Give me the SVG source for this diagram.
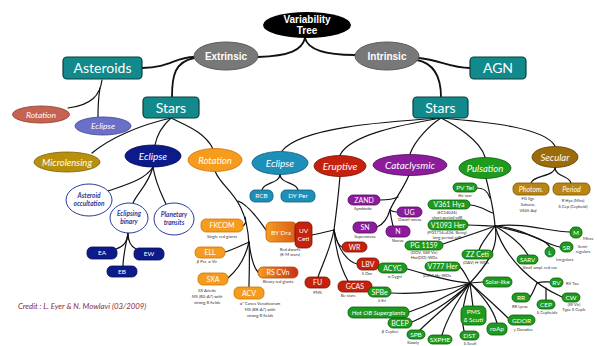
<svg xmlns="http://www.w3.org/2000/svg" width="597" height="346" viewBox="0 0 597 346">
<defs>
<linearGradient id="gBy" x1="0" y1="0" x2="1" y2="0"><stop offset="0" stop-color="#f59c1e"/><stop offset="1" stop-color="#dc5a1a"/></linearGradient>
<linearGradient id="gRs" x1="0" y1="0" x2="1" y2="0"><stop offset="0" stop-color="#f59c1e"/><stop offset="1" stop-color="#c83018"/></linearGradient>
<style>
.c{fill:none;stroke:#111;stroke-width:1.2;stroke-linecap:round}
.cw{fill:none;stroke:#111;stroke-width:1.8;stroke-linecap:round}
.teal{fill:#128a8c;stroke:#0a3e3e;stroke-width:1.2}
.gray{fill:#787878;stroke:#5a5a5a;stroke-width:1}
.or{fill:#f59c1e;stroke:#d07400;stroke-width:.8}
.rd{fill:#c4220e;stroke:#7a1000;stroke-width:.8}
.gr{fill:#1e9a1e;stroke:#0a5a0a;stroke-width:.8}
.pu{fill:#8c1c9c;stroke:#50085a;stroke-width:.8}
.cy{fill:#1d8fb8;stroke:#0c5a7a;stroke-width:.8}
.db{fill:#0c1a8a;stroke:#060c50;stroke-width:.8}
.se{fill:#9c6c0a;stroke:#5a3c00;stroke-width:.8}
.se2{fill:#b88414;stroke:#7a5400;stroke-width:.8}
.wh{fill:#fff;stroke:#2a3a9a;stroke-width:1}
.t{font-family:Lato,"Open Sans",sans-serif;fill:#fff;text-anchor:middle}
.ti{font-family:Lato,"Open Sans",sans-serif;font-style:italic;fill:#fff;text-anchor:middle}
.tb{font-family:"Liberation Sans",Arial,sans-serif;font-weight:bold;fill:#fff;text-anchor:middle;font-size:10px}
.tw{font-family:Lato,"Open Sans",sans-serif;font-style:italic;font-weight:bold;fill:#2a3a9a;text-anchor:middle;font-size:6.5px}
.s{font-family:Lato,"Open Sans",sans-serif;fill:#333;text-anchor:middle;font-size:4.2px}
.sl{font-family:Lato,"Open Sans",sans-serif;fill:#333;text-anchor:start;font-size:4.2px}
.big{font-size:14px}
.m{font-size:10px}
.b{font-size:7px}
</style>
</defs>
<rect width="597" height="346" fill="#fff"/>
<g id="connectors">
<path class="cw" d="M305,38 C302,50 290,56 258,57"/>
<path class="cw" d="M305,38 C308,50 325,55 355,55"/>
<path class="cw" d="M142,68 C170,68 175,57 194,57"/>
<path class="cw" d="M194,58 C175,62 172,75 172,97"/>
<path class="cw" d="M419,58 C440,60 450,68 470,68"/>
<path class="cw" d="M417,60 C432,63 441,75 441,97"/>
<path class="c" d="M102,80 C100,95 92,105 68,108"/>
<path class="c" d="M100,88 C98,100 98,108 98,117"/>
<path class="c" d="M171,118 C140,125 110,138 92,153"/>
<path class="c" d="M171,118 C163,125 157,135 155,145"/>
<path class="c" d="M171,118 C185,125 205,132 213,149"/>
<path class="c" d="M153,167 C145,180 125,185 108,191"/>
<path class="c" d="M153,167 C148,185 138,192 133,203"/>
<path class="c" d="M153,167 C156,185 162,195 166,204"/>
<path class="c" d="M128,233 C128,243 122,247 116,249"/>
<path class="c" d="M128,233 C128,243 132,247 136,249"/>
<path class="c" d="M128,233 C125,248 123,258 123,266"/>
<path class="c" d="M215,171 C222,190 247,195 249,245"/>
<path class="c" d="M243,226 C246,224 246,220 245,217"/>
<path class="c" d="M238,201 C250,205 262,225 267,231"/>
<path class="c" d="M249,242 C240,246 232,250 225,252"/>
<path class="c" d="M249,242 C245,260 235,272 228,278"/>
<path class="c" d="M249,242 C250,260 249,275 249,287"/>
<path class="c" d="M249,242 C251,258 254,268 258,272"/>
<path class="c" d="M441,118 C380,122 300,128 282,151"/>
<path class="c" d="M441,118 C400,125 350,135 340,155"/>
<path class="c" d="M441,118 C430,125 415,140 410,154"/>
<path class="c" d="M441,118 C455,125 480,140 485,157"/>
<path class="c" d="M441,118 C490,122 545,128 555,146"/>
<path class="c" d="M280,174 C280,184 263,182 262,190"/>
<path class="c" d="M280,174 C280,184 297,182 298,190"/>
<path class="c" d="M340,176 C338,200 336,215 334,230"/>
<path class="c" d="M334,230 C325,232 318,234 312,235"/>
<path class="c" d="M334,230 C336,240 339,246 342,247"/>
<path class="c" d="M334,230 C338,250 348,262 357,264"/>
<path class="c" d="M334,230 C336,255 343,272 348,281"/>
<path class="c" d="M334,230 C330,250 322,265 318,277"/>
<path class="c" d="M409,175 C403,190 395,198 390,210"/>
<path class="c" d="M398,197 C392,200 386,200 380,200"/>
<path class="c" d="M390,210 C393,212 395,212 397,212"/>
<path class="c" d="M390,210 C387,220 382,225 377,227"/>
<path class="c" d="M390,210 C391,218 392,222 393,226"/>
<path class="c" d="M555,167 C555,177 533,175 531,183"/>
<path class="c" d="M555,167 C555,177 569,175 571,183"/>
<path class="c" d="M486,178 C490,195 494,210 495,226"/>
<path class="c" d="M477,188 C485,188 488,192 490,198"/>
<path class="c" d="M470,205 C482,206 488,212 493,213"/>
<path class="c" d="M468,225 C478,225 488,226 495,226"/>
<path class="c" d="M495,226 C480,232 460,238 443,244"/>
<path class="c" d="M495,226 C488,235 482,242 479,250"/>
<path class="c" d="M495,226 C500,250 482,270 470,283"/>
<path class="c" d="M495,226 C525,222 550,232 570,232"/>
<path class="c" d="M495,226 C525,228 545,245 560,247"/>
<path class="c" d="M495,226 C520,232 545,238 550,247"/>
<path class="c" d="M495,226 C510,235 522,245 528,255"/>
<path class="c" d="M495,226 C505,260 535,285 562,297"/>
<path class="c" d="M537,283 C543,281 547,282 550,282"/>
<path class="c" d="M537,283 C534,290 532,295 530,297"/>
<path class="c" d="M546,288 L546,300"/>
<path class="c" d="M460,267 C465,272 467,278 470,283"/>
<path class="c" d="M407,269 C430,275 450,282 470,283"/>
<path class="c" d="M391,293 C420,295 450,290 470,283"/>
<path class="c" d="M409,312 C430,305 455,292 470,283"/>
<path class="c" d="M412,322 C435,312 458,295 470,283"/>
<path class="c" d="M420,330 C435,315 458,297 470,283"/>
<path class="c" d="M442,335 C448,315 460,297 470,283"/>
<path class="c" d="M464,331 C460,315 465,295 470,283"/>
<path class="c" d="M473,307 L470,283"/>
<path class="c" d="M497,323 C492,305 478,292 470,283"/>
<path class="c" d="M508,318 C495,305 480,292 470,283"/>
<path class="c" d="M483,282 L470,283"/>
</g>
<g id="root"><ellipse cx="307" cy="25" rx="44" ry="13" fill="#000"/><text class="tb" x="307" y="23">Variability</text><text class="tb" x="307" y="34">Tree</text></g>
<g id="extrinsic"><ellipse class="gray" cx="226" cy="56" rx="32" ry="14"/><text class="tb" x="226" y="59.5">Extrinsic</text></g>
<g id="intrinsic"><ellipse class="gray" cx="387" cy="56" rx="32" ry="14"/><text class="tb" x="387" y="59.5">Intrinsic</text></g>
<g id="asteroids"><rect class="teal" x="63" y="57" width="79" height="22" rx="4"/><text class="t big" x="102.5" y="73">Asteroids</text></g>
<g id="stars-ext"><rect class="teal" x="143" y="97" width="56" height="21" rx="4"/><text class="t big" x="171" y="112.5">Stars</text></g>
<g id="agn"><rect class="teal" x="470" y="57" width="56" height="22" rx="4"/><text class="t big" x="498" y="73">AGN</text></g>
<g id="stars-int"><rect class="teal" x="413" y="97" width="55" height="21" rx="4"/><text class="t big" x="440.5" y="112.5">Stars</text></g>
<g id="ast-rotation"><ellipse cx="41" cy="114.5" rx="28.5" ry="8.5" fill="#c56250" stroke="#8a3a2a" stroke-width=".8"/><text class="ti" font-size="8.5" x="41" y="117.5">Rotation</text></g>
<g id="ast-eclipse"><ellipse cx="103" cy="126" rx="28" ry="9" fill="#6a6fc8" stroke="#3a3f8a" stroke-width=".8"/><text class="ti" font-size="8.5" x="103" y="129">Eclipse</text></g>
<g id="microlensing"><ellipse cx="67" cy="162" rx="33" ry="10" fill="#b8900c" stroke="#7a5a00" stroke-width=".8"/><text class="ti" font-size="9.5" x="67" y="165.5">Microlensing</text></g>
<g id="eclipse-ext"><ellipse class="db" cx="153" cy="156" rx="28" ry="11"/><text class="ti m" x="153" y="159.5">Eclipse</text></g>
<g id="rotation"><ellipse class="or" cx="215" cy="160" rx="27" ry="11.5"/><text class="ti" font-size="9.5" x="215" y="163.5">Rotation</text></g>
<g id="eclipse-int"><ellipse class="cy" cx="280" cy="163" rx="28" ry="11.5"/><text class="ti m" x="280" y="166.5">Eclipse</text></g>
<g id="eruptive"><ellipse class="rd" cx="340" cy="166" rx="26" ry="10.5"/><text class="ti m" x="340" y="169.5">Eruptive</text></g>
<g id="cataclysmic"><ellipse class="pu" cx="410" cy="165" rx="37" ry="10.5"/><text class="ti m" x="410" y="168.5">Cataclysmic</text></g>
<g id="pulsation"><ellipse class="gr" cx="485" cy="168" rx="26" ry="10.5"/><text class="ti" font-size="9.5" x="485" y="171.5">Pulsation</text></g>
<g id="secular"><ellipse class="se" cx="555" cy="157" rx="23" ry="10.5"/><text class="ti" font-size="9.5" x="555" y="160.5">Secular</text></g>
<g id="occultation"><ellipse class="wh" cx="89" cy="200" rx="23" ry="16"/><text class="tw" x="89" y="198">Asteroid</text><text class="tw" x="89" y="206">occultation</text></g>
<g id="eclipsing-binary"><ellipse class="wh" cx="129" cy="218" rx="19" ry="15"/><text class="tw" x="129" y="216">Eclipsing</text><text class="tw" x="129" y="224">binary</text></g>
<g id="planetary-transits"><ellipse class="wh" cx="174" cy="219" rx="20" ry="16"/><text class="tw" x="174" y="217">Planetary</text><text class="tw" x="174" y="225">transits</text></g>
<g id="ea"><rect class="db" x="87" y="247" width="30" height="12" rx="5"/><text class="t" font-size="6.5" x="102" y="255.3">EA</text></g>
<g id="ew"><rect class="db" x="134" y="248" width="30" height="12" rx="5"/><text class="t" font-size="6.5" x="149" y="256.3">EW</text></g>
<g id="eb"><rect class="db" x="107" y="266" width="30" height="11" rx="5"/><text class="t" font-size="6.5" x="122" y="273.8">EB</text></g>
<g id="fkcom"><rect class="or" x="201" y="219" width="42" height="13" rx="5"/><text class="t b" x="222" y="228">FKCOM</text><text class="s" x="222" y="238">Single red giants</text></g>
<g id="ell"><rect class="or" x="195" y="247" width="30" height="11" rx="5"/><text class="t b" x="210" y="255">ELL</text><text class="s" x="207" y="263">β Per, α Vir</text></g>
<g id="sxa"><rect class="or" x="198" y="273" width="30" height="12" rx="5"/><text class="t b" x="213" y="281.5">SXA</text><text class="s" x="207" y="292">SX Arietis</text><text class="s" x="207" y="298">MS (B0-A7) with</text><text class="s" x="207" y="304">strong B fields</text></g>
<g id="acv"><rect class="or" x="234" y="287" width="30" height="12" rx="5"/><text class="t b" x="249" y="295.5">ACV</text><text class="s" x="260" y="305">α² Canes Venaticorum</text><text class="s" x="260" y="311">MS (B8-A7) with</text><text class="s" x="260" y="317">strong B fields</text></g>
<g id="rscvn"><rect x="258" y="267" width="40" height="11" rx="5" fill="url(#gRs)" stroke="#b04a10" stroke-width=".8"/><text class="t b" x="278" y="275">RS CVn</text><text class="s" x="278" y="282.5">Binary red giants</text></g>
<g id="bydra"><rect x="266" y="222" width="31" height="20" rx="5" fill="url(#gBy)" stroke="#c06010" stroke-width=".8"/><text class="t" font-size="6.5" x="281" y="234.5">BY Dra</text></g>
<g id="uvceti"><rect class="rd" x="295" y="222" width="17" height="26" rx="5"/><text class="t" font-size="6.5" x="303.5" y="232.5">UV</text><text class="t" font-size="6.5" x="303.5" y="241">Ceti</text><text class="s" x="290" y="250.5">Red dwarfs</text><text class="s" x="290" y="256">(K-M stars)</text></g>
<g id="rcb"><rect class="cy" x="250" y="190" width="23" height="12" rx="5"/><text class="t" font-size="6.5" x="261.5" y="198.3">RCB</text></g>
<g id="dyper"><rect class="cy" x="281" y="190" width="34" height="12" rx="5"/><text class="t" font-size="6.5" x="298" y="198.3">DY Per</text></g>
<g id="fu"><rect class="rd" x="305" y="277" width="25" height="11" rx="5"/><text class="t b" x="317.5" y="285">FU</text><text class="s" x="317.5" y="293.5">PMS</text></g>
<g id="gcas"><rect class="rd" x="338" y="281" width="34" height="11" rx="5"/><text class="t b" x="355" y="289">GCAS</text><text class="s" x="348" y="297">Be stars</text></g>
<g id="wr"><rect class="rd" x="342" y="242" width="25" height="10" rx="5"/><text class="t b" x="354.5" y="249.5">WR</text></g>
<g id="lbv"><rect class="rd" x="357" y="258" width="22" height="12" rx="5"/><text class="t b" x="368" y="266.5">LBV</text><text class="s" x="367" y="274.5">S Dor</text></g>
<g id="zand"><rect class="pu" x="348" y="195" width="32" height="10" rx="5"/><text class="t b" x="364" y="202.5">ZAND</text><text class="s" x="363" y="209.5">Symbiotic</text></g>
<g id="ug"><rect class="pu" x="397" y="207" width="25" height="10" rx="5"/><text class="t b" x="409.5" y="214.5">UG</text><text class="s" x="410" y="221">Dwarf novae</text></g>
<g id="sn"><rect class="pu" x="353" y="222" width="24" height="11" rx="5"/><text class="t b" x="365" y="230">SN</text><text class="s" x="365" y="237.5">Supernovae</text></g>
<g id="n"><rect class="pu" x="386" y="226" width="24" height="11" rx="5"/><text class="t b" x="398" y="234">N</text><text class="s" x="398" y="241.5">Novae</text></g>
<g id="photom"><rect class="se2" x="513" y="183" width="36" height="12" rx="5"/><text class="ti b" x="531" y="191.5">Photom.</text><text class="s" x="528" y="200">FG Sge</text><text class="s" x="528" y="206">Sakurai,</text><text class="s" x="528" y="212">V605 Aql</text></g>
<g id="period"><rect class="se2" x="553" y="183" width="37" height="12" rx="5"/><text class="ti b" x="571.5" y="191.5">Period</text><text class="s" x="573" y="202">R Hya (Mira)</text><text class="s" x="573" y="208">δ Cep (Cepheid)</text></g>
<g id="pvtel"><rect class="gr" x="453" y="183" width="24" height="9" rx="4.5"/><text class="t" font-size="6.5" x="465" y="190.2">PV Tel</text><text class="s" x="465" y="197">He star</text></g>
<g id="v361"><rect class="gr" x="428" y="200" width="42" height="9" rx="4.5"/><text class="t b" x="449" y="207.3">V361 Hya</text><text class="s" x="447" y="213.5">(EC14026)</text><text class="s" x="447" y="219">short period sdB</text></g>
<g id="v1093"><rect class="gr" x="428" y="220" width="40" height="10" rx="5"/><text class="t b" x="448" y="227.7">V1093 Her</text><text class="s" x="447" y="233.5">(PG1716+426, Betsy)</text><text class="s" x="447" y="238.5">long period sdB</text></g>
<g id="pg1159"><rect class="gr" x="405" y="241" width="38" height="9" rx="4.5"/><text class="t b" x="424" y="248.2">PG 1159</text><text class="s" x="424" y="254">(DOV, GW Vir)</text><text class="s" x="424" y="259">Hot(DO)-WDs</text></g>
<g id="zzceti"><rect class="gr" x="462" y="250" width="31" height="9" rx="4.5"/><text class="t b" x="477.5" y="257.2">ZZ Ceti</text><text class="s" x="476" y="263.5">(DAV) H-WDs</text></g>
<g id="v777"><rect class="gr" x="425" y="262" width="35" height="9" rx="4.5"/><text class="t b" x="442.5" y="269.2">V777 Her</text><text class="s" x="437" y="277">(DBV) He-WDs</text></g>
<g id="acyg"><rect class="gr" x="378" y="263" width="29" height="10" rx="5"/><text class="t b" x="392.5" y="270.5">ACYG</text><text class="s" x="395" y="278">α Cygni</text></g>
<g id="spbe"><rect class="gr" x="368" y="287" width="23" height="10" rx="5"/><text class="t b" x="379.5" y="294.5">SPBe</text><text class="s" x="382" y="302">λ Eri</text></g>
<g id="hotob"><rect class="gr" x="348" y="307" width="61" height="11" rx="5"/><text class="ti" font-size="6.5" x="378.5" y="314.8">Hot OB Supergiants</text></g>
<g id="bcep"><rect class="gr" x="388" y="318" width="24" height="10" rx="5"/><text class="t b" x="400" y="325.5">BCEP</text><text class="s" x="390" y="333">β Cephei</text></g>
<g id="spb"><rect class="gr" x="407" y="330" width="18" height="9" rx="4.5"/><text class="t" font-size="6.5" x="416" y="337">SPB</text><text class="s" x="413" y="343.5">Slowly</text></g>
<g id="sxphe"><rect class="gr" x="428" y="335" width="24" height="9" rx="4.5"/><text class="t" font-size="6.5" x="440" y="342">SXPHE</text></g>
<g id="dst"><rect class="gr" x="460" y="331" width="19" height="9" rx="4.5"/><text class="t" font-size="6.5" x="469.5" y="338">DST</text><text class="s" x="470" y="344.5">δ Scuti</text></g>
<g id="pms"><rect class="gr" x="461" y="306" width="25" height="19" rx="5"/><text class="t" font-size="6.5" x="473.5" y="314">PMS</text><text class="t" font-size="6.5" x="473.5" y="322">δ Scuti</text></g>
<g id="roap"><rect class="gr" x="487" y="323" width="20" height="12" rx="5"/><text class="t" font-size="6.5" x="497" y="331.3">roAp</text></g>
<g id="gdor"><rect class="gr" x="508" y="315" width="27" height="10" rx="5"/><text class="t" font-size="6.5" x="521.5" y="322.5">GDOR</text><text class="s" x="523" y="330.5">γ Doradus</text></g>
<g id="solar"><rect class="gr" x="483" y="277" width="29" height="10" rx="5"/><text class="t" font-size="6" x="497.5" y="284.3">Solar-like</text></g>
<g id="rr"><rect class="gr" x="512" y="293" width="18" height="9" rx="4.5"/><text class="t" font-size="6.5" x="521" y="300">RR</text><text class="s" x="520" y="307.5">RR Lyrae</text></g>
<g id="cep"><rect class="gr" x="537" y="300" width="18" height="9" rx="4.5"/><text class="t" font-size="6.5" x="546" y="307">CEP</text><text class="s" x="547" y="314">δ Cepheids</text></g>
<g id="rv"><rect class="gr" x="550" y="278" width="13" height="9" rx="4.5"/><text class="t" font-size="6.5" x="556.5" y="285">RV</text><text class="sl" x="566" y="285">RV Tau</text></g>
<g id="cw"><rect class="gr" x="562" y="293" width="18" height="9" rx="4.5"/><text class="t" font-size="6.5" x="571" y="300">CW</text><text class="s" x="574" y="306">(W Vir)</text><text class="s" x="574" y="311">Type II Ceph.</text></g>
<g id="sarv"><rect class="gr" x="517" y="255" width="21" height="9" rx="4.5"/><text class="t" font-size="6" x="527.5" y="261.8">SARV</text><text class="s" x="540" y="268.5">Small ampl. red var.</text></g>
<g id="l"><rect class="gr" x="545" y="247" width="10" height="10" rx="5"/><text class="t" font-size="6.5" x="550" y="254.5">L</text><text class="sl" x="556" y="260.5">Irregulars</text></g>
<g id="sr"><rect class="gr" x="560" y="242" width="13" height="10" rx="5"/><text class="t" font-size="6.5" x="566.5" y="249.5">SR</text><text class="s" x="583" y="248">Semi-</text><text class="s" x="583" y="253">regulars</text></g>
<g id="m"><rect class="gr" x="570" y="227" width="12" height="11" rx="5"/><text class="t" font-size="6.5" x="576" y="235">M</text><text class="sl" x="583" y="240">Miras</text></g>
<g id="credit"><text x="18" y="309" font-family="Lato,'Open Sans',sans-serif" font-style="italic" font-size="7.8" fill="#8a2a3a">Credit :  L. Eyer &amp; N. Mowlavi  (03/2009)</text></g>
</svg>
